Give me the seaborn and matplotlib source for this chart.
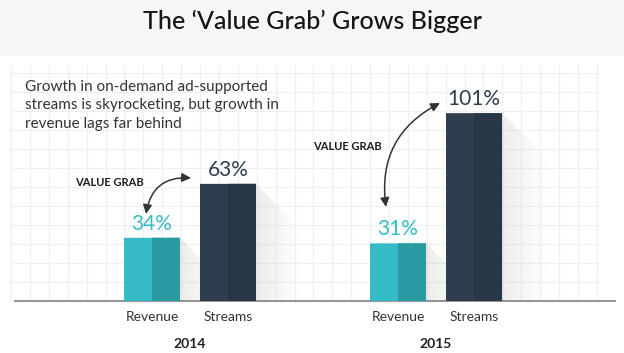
import numpy as np
import pandas as pd
import matplotlib.pyplot as plt
import seaborn as sns
from matplotlib.patches import Rectangle, Polygon
from matplotlib.transforms import blended_transform_factory

# --- dados ---
anos = ['2014', '2015']
categorias = ['Revenue', 'Streams']
valores_2014 = [34, 63]
valores_2015 = [31, 101]

titulo = "The \u2018Value Grab\u2019 Grows Bigger"
subtitulo = ("Growth in on-demand ad-supported\n"
             "streams is skyrocketing, but growth in\n"
             "revenue lags far behind")

cores = {'Revenue': '#35bcc6', 'Streams': '#2e3e4e'}
cores_escuras = {'Revenue': '#2a9aa1', 'Streams': '#273746'}
cores_label = {'Revenue': '#35bcc6', 'Streams': '#2e3e4e'}

sns.set_theme(style='white')
plt.rcParams['font.family'] = ['Lato', 'DejaVu Sans']

W, H = 624, 353
fig = plt.figure(figsize=(W / 100, H / 100), dpi=100)

# fundo em pixels: faixa do titulo, grade e linha de base
bg = fig.add_axes([0, 0, 1, 1])
bg.set_xlim(0, W)
bg.set_ylim(H, 0)
bg.axis('off')
bg.axhspan(0, 55, color='#f5f6f8', zorder=0)
bg.vlines(np.arange(11, 600, 18.9), 65, 301, color='#f0f0f0', lw=0.9, zorder=1)
bg.hlines(np.arange(301, 64, -19), 11, 600, color='#f0f0f0', lw=0.9, zorder=1)
bg.hlines(301, 14, 616, color='#8c8c8c', lw=1.3, zorder=5)

fig.text(0.5, 1 - 21 / H, titulo, ha='center', va='center',
         fontsize=18, color='#151515', fontweight='medium')
fig.text(25 / W, 1 - 80 / H, subtitulo, ha='left', va='top',
         fontsize=11, color='#333333', linespacing=1.4)

ymax = 129.6
bar_w = 56 / 76
posicoes = [[14, 52, 301, 241], [315, 52, 301, 241]]
limites = [(-1.816, 2.145), (-1.092, 2.868)]

for ano, vals, pos, lim in zip(anos, [valores_2014, valores_2015], posicoes, limites):
    ax = fig.add_axes([pos[0] / W, pos[1] / H, pos[2] / W, pos[3] / H])
    ax.patch.set_alpha(0)
    df = pd.DataFrame({'Categoria': categorias, 'Valor': vals})
    sns.barplot(data=df, x='Categoria', y='Valor', hue='Categoria',
                palette=cores, width=bar_w, legend=False, ax=ax,
                saturation=1, linewidth=0, zorder=3)
    ax.set_xlim(*lim)
    ax.set_ylim(0, ymax)
    for p, cat, v in zip(ax.patches, categorias, vals):
        x0, w, h = p.get_x(), p.get_width(), p.get_height()
        p.set_snap(False)
        # metade direita mais escura
        ax.add_patch(Rectangle((x0 + w / 2, 0), w / 2, h, facecolor=cores_escuras[cat],
                               edgecolor='none', lw=0, zorder=4, snap=False))
        # sombra diagonal
        sw, sh = 0.62, 0.62 * 76 / 1.86
        grad = np.zeros((1, 64, 4))
        grad[..., :3] = 0.5
        grad[..., 3] = np.linspace(0.2, 0.0, 64) ** 1.2
        im = ax.imshow(grad, extent=[x0 + w, x0 + w + sw, 0, h],
                       aspect='auto', zorder=2, interpolation='bilinear')
        clip = Polygon([(x0 + w, h), (x0 + w + sw, h - sh),
                        (x0 + w + sw, 0), (x0 + w, 0)],
                       closed=True, transform=ax.transData)
        im.set_clip_path(clip)
        ax.text(p.get_x() + w / 2, h + 2.2, f'{v}%', ha='center', va='bottom',
                fontsize=15, color=cores_label[cat], zorder=6)
    ax.set_xlabel('')
    ax.set_ylabel('')
    ax.set_yticks([])
    ax.tick_params(axis='x', length=0, pad=7, labelsize=10, labelcolor='#333333')
    sns.despine(ax=ax, left=True, bottom=True)
    trans = blended_transform_factory(ax.transData, ax.transAxes)
    ax.text(0.5, -0.18, ano, transform=trans, ha='center', va='center',
            fontsize=10, fontweight='bold', color='#222222')

# anotacoes "VALUE GRAB"
seta = dict(arrowstyle='<|-|>,head_length=0.45,head_width=0.22',
            color='#333333', lw=1.1, shrinkA=0, shrinkB=0)
bg.text(109, 183, 'VALUE GRAB', ha='center', va='center', fontsize=8,
        fontweight='bold', color='#1a1a1a')
bg.annotate('', xy=(191, 178), xytext=(146, 214),
            arrowprops=dict(connectionstyle='arc3,rad=-0.45', **seta), zorder=7)
bg.text(347, 146, 'VALUE GRAB', ha='center', va='center', fontsize=8,
        fontweight='bold', color='#1a1a1a')
bg.annotate('', xy=(440, 103), xytext=(386, 207),
            arrowprops=dict(connectionstyle='arc3,rad=-0.35', **seta), zorder=7)

fig.savefig('out.png', dpi=100)
